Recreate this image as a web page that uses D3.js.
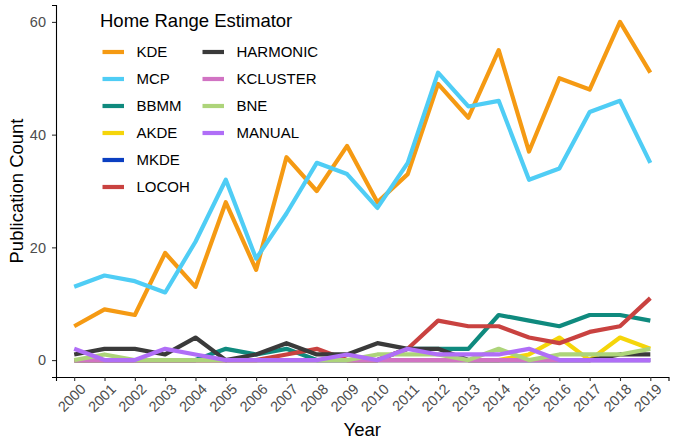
<!DOCTYPE html>
<html><head><meta charset="utf-8">
<script src="https://cdn.jsdelivr.net/npm/d3@7"></script>
<style>
html,body{margin:0;padding:0;background:#fff;}
svg{display:block;font-family:"Liberation Sans",Arial,Helvetica,sans-serif;}
</style></head>
<body>
<svg id="chart" width="680" height="445"></svg>
<script>
const years = [2000,2001,2002,2003,2004,2005,2006,2007,2008,2009,2010,2011,2012,2013,2014,2015,2016,2017,2018,2019];
const estimators = ["KDE","MCP","BBMM","AKDE","MKDE","LOCOH","HARMONIC","KCLUSTER","BNE","MANUAL"];
const colors = ["#F59A13","#4FCDF5","#0F8A7E","#F5D50A","#0B3FC1","#C94240","#3A3A3A","#D173C3","#ADD47A","#B06EF7"];
const kde      = [6,9,8,19,13,28,16,36,30,38,28,33,49,43,55,37,50,48,60,51];
const mcp      = [13,15,14,12,21,32,18,26,35,33,27,35,51,45,46,32,34,44,46,35];
const bbmm     = [0,0,0,0,0,2,1,2,0,0,0,2,2,2,8,7,6,8,8,7];
const akde     = [0,0,0,0,0,0,0,0,0,0,0,0,0,0,0,1,4,0,4,2];
const mkde     = [0,0,0,0,0,0,0,0,0,0,0,0,0,0,0,0,0,0,0,0];
const locoh    = [0,0,0,0,0,0,0,1,2,0,0,2,7,6,6,4,3,5,6,11];
const harmonic = [1,2,2,1,4,0,1,3,1,1,3,2,2,0,0,0,0,0,1,1];
const kcluster = [0,0,0,0,0,0,0,0,0,0,0,0,0,0,0,0,0,0,0,0];
const bne      = [0,1,0,0,0,0,0,0,0,0,1,1,1,0,2,0,1,1,1,2];
const manual   = [2,0,0,2,1,0,0,0,0,1,0,2,1,1,1,2,0,0,0,0];
const yTicks = [0,20,40,60];
const seriesValues = [kde,mcp,bbmm,akde,mkde,locoh,harmonic,kcluster,bne,manual];

const svg = d3.select("#chart");
const pLeft = 56, pRight = 668.5, pTop = 5, pBottom = 377;

const x = d3.scalePoint().domain(years).range([pLeft, pRight]).padding(0.6);
const y = d3.scaleLinear().domain([-3, 63]).range([pBottom, pTop]);

// axes
const yAxis = svg.append("g").attr("transform", `translate(${pLeft},0)`)
  .call(d3.axisLeft(y).tickValues(yTicks).tickSize(4).tickPadding(6));
const xAxis = svg.append("g").attr("transform", `translate(0,${pBottom})`)
  .call(d3.axisBottom(x).tickSize(4).tickFormat(d => String(d)));

[yAxis, xAxis].forEach(g => {
  g.select(".domain").attr("stroke", "#000").attr("stroke-width", 1.1);
  g.selectAll(".tick line").attr("stroke", "#333").attr("stroke-width", 1.1);
  g.selectAll(".tick text").attr("fill", "#4D4D4D").attr("font-size", 14.5)
   .attr("font-family", "Liberation Sans, Arial, sans-serif");
});
xAxis.selectAll(".tick text")
  .attr("text-anchor", "end")
  .attr("y", 0).attr("dy", 0)
  .attr("transform", "translate(12,13) rotate(-45)");

// lines
const line = d3.line().x((d, i) => x(years[i])).y(d => y(d));
const gLines = svg.append("g");
estimators.forEach((name, k) => {
  gLines.append("path")
    .datum(seriesValues[k])
    .attr("d", line)
    .attr("fill", "none")
    .attr("stroke", colors[k])
    .attr("stroke-width", 4.2)
    .attr("stroke-linejoin", "round")
    .attr("stroke-linecap", "butt");
});

// axis titles
svg.append("text").attr("x", (pLeft + pRight) / 2).attr("y", 436)
  .attr("text-anchor", "middle").attr("font-size", 18.5).attr("fill", "#000").text("Year");
svg.append("text").attr("transform", `translate(23,${(pTop + pBottom) / 2}) rotate(-90)`)
  .attr("text-anchor", "middle").attr("font-size", 18.5).attr("fill", "#000").text("Publication Count");

// legend
const legend = svg.append("g");
legend.append("text").attr("x", 100).attr("y", 26.5).attr("font-size", 18.5).attr("fill", "#000")
  .text("Home Range Estimator");
estimators.forEach((name, k) => {
  const col = k < 6 ? 0 : 1;
  const row = k < 6 ? k : k - 6;
  const kx = col === 0 ? 102.5 : 202.5;
  const ky = 52 + row * 27;
  legend.append("line").attr("x1", kx).attr("x2", kx + 21.5).attr("y1", ky).attr("y2", ky)
    .attr("stroke", colors[k]).attr("stroke-width", 4.2);
  legend.append("text").attr("x", kx + 34).attr("y", ky).attr("dy", "0.36em")
    .attr("font-size", 15).attr("fill", "#000").text(name);
});
</script>
</body></html>
